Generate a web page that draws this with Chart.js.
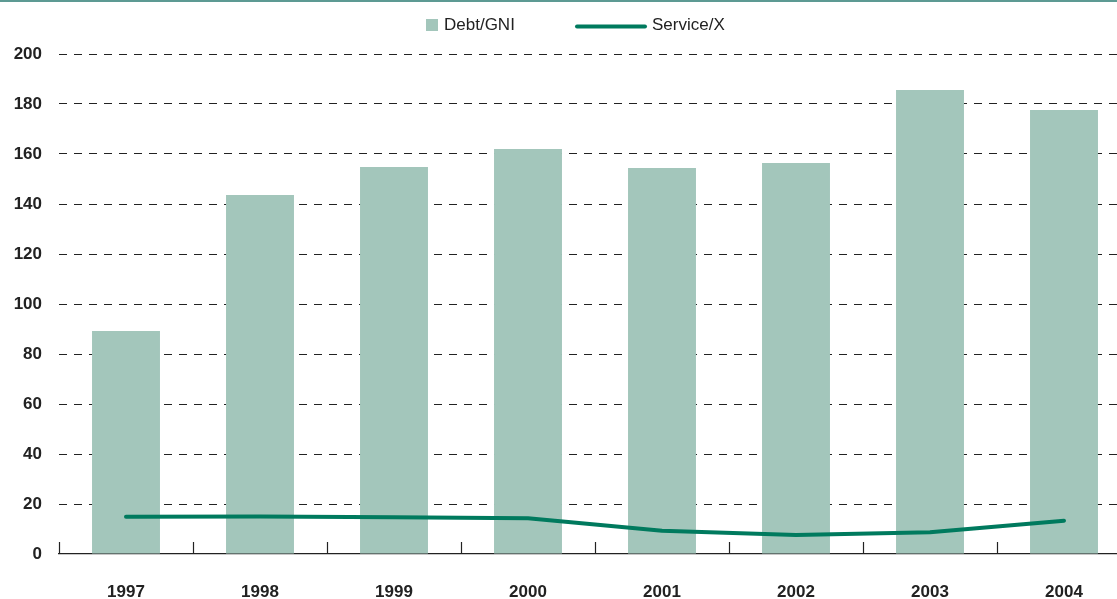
<!DOCTYPE html>
<html>
<head>
<meta charset="utf-8">
<script src="https://cdn.jsdelivr.net/npm/chart.js@4.4.1/dist/chart.umd.min.js"></script>
<style>
  html, body { margin: 0; padding: 0; overflow: hidden; background: #fff; width: 1117px; height: 599px; }
  #topline { position: absolute; left: 0; top: 0; width: 1117px; height: 2px; background: #5d9a93; z-index: 2; }
  #wrap { position: absolute; left: 0; top: 0; width: 1131px; height: 599px; }
</style>
</head>
<body>
<div id="topline"></div>
<div id="wrap"><canvas id="c" width="1131" height="599"></canvas></div>
<script>
const categories = ["1997", "1998", "1999", "2000", "2001", "2002", "2003", "2004"];
const debtGNI = [89.2, 143.6, 154.8, 162.0, 154.4, 156.4, 185.6, 177.6];
const serviceX = [14.9, 15.0, 14.7, 14.3, 9.3, 7.6, 8.7, 13.3];
const yTicks = [0, 20, 40, 60, 80, 100, 120, 140, 160, 180, 200];
const seriesNames = ["Debt/GNI", "Service/X"];

const BAR_COLOR = "#a3c6bb";
const LINE_COLOR = "#007a5e";
const FONT = "'Liberation Sans', Arial, Helvetica, sans-serif";

const legendPlugin = {
  id: "customLegend",
  afterDraw(chart) {
    const ctx = chart.ctx;
    ctx.save();
    ctx.font = "17px " + FONT;
    ctx.textBaseline = "middle";
    const cy = 25;
    let x = 426;
    ctx.fillStyle = BAR_COLOR;
    ctx.fillRect(x, cy - 6, 12, 12);
    ctx.fillStyle = "#222";
    ctx.fillText(seriesNames[0], x + 18, cy);
    x = 576;
    ctx.strokeStyle = LINE_COLOR;
    ctx.lineWidth = 4;
    ctx.lineCap = "round";
    ctx.beginPath();
    ctx.moveTo(x + 1, cy + 1.5);
    ctx.lineTo(x + 69, cy + 1.5);
    ctx.stroke();
    ctx.fillText(seriesNames[1], x + 76, cy);
    ctx.restore();
  }
};

const tickMarkPlugin = {
  id: "tickMarks",
  afterDatasetsDraw(chart) {
    const xs = chart.scales.x;
    const ys = chart.scales.y;
    const ctx = chart.ctx;
    const n = categories.length;
    const half = (xs.getPixelForValue(1) - xs.getPixelForValue(0)) / 2;
    const y0 = ys.getPixelForValue(0);
    ctx.save();
    ctx.strokeStyle = "#222";
    ctx.lineWidth = 1.2;
    for (let i = 0; i <= n; i++) {
      const px = Math.round(xs.getPixelForValue(i) - half) + 0.5;
      ctx.beginPath();
      ctx.moveTo(px, y0);
      ctx.lineTo(px, y0 - 12);
      ctx.stroke();
    }
    ctx.restore();
  }
};

new Chart(document.getElementById("c"), {
  data: {
    labels: categories,
    datasets: [
      {
        type: "line",
        label: seriesNames[1],
        data: serviceX,
        borderColor: LINE_COLOR,
        backgroundColor: LINE_COLOR,
        borderWidth: 4,
        pointRadius: 0,
        tension: 0,
        borderCapStyle: "round",
        borderJoinStyle: "round",
        order: 0
      },
      {
        type: "bar",
        label: seriesNames[0],
        data: debtGNI,
        backgroundColor: BAR_COLOR,
        borderWidth: 0,
        barPercentage: 0.507,
        categoryPercentage: 1.0,
        order: 1
      }
    ]
  },
  options: {
    responsive: false,
    animation: false,
    devicePixelRatio: 1,
    layout: { padding: { top: 54, right: 0, bottom: 0, left: 0 } },
    plugins: {
      legend: { display: false },
      tooltip: { enabled: false },
      title: { display: false }
    },
    scales: {
      x: {
        type: "category",
        offset: true,
        grid: { display: false, drawTicks: false },
        border: { display: true, color: "#222", width: 1.2 },
        ticks: {
          font: { family: FONT, size: 17, weight: "bold" },
          color: "#222",
          padding: 28,
          maxRotation: 0,
          autoSkip: false
        },
        afterFit(scale) { scale.height = 45; }
      },
      y: {
        min: 0,
        max: 200,
        afterBuildTicks(scale) { scale.ticks = yTicks.map(v => ({ value: v })); },
        grid: {
          drawTicks: false,
          color: ctx => (ctx.tick && ctx.tick.value === 0) ? "rgba(0,0,0,0)" : "#222",
          lineWidth: 1
        },
        border: { display: false, dash: [8, 7] },
        ticks: {
          font: { family: FONT, size: 17, weight: "bold" },
          color: "#222",
          padding: 17
        },
        afterFit(scale) { scale.width = 59; }
      }
    }
  },
  plugins: [legendPlugin, tickMarkPlugin]
});
</script>
</body>
</html>
